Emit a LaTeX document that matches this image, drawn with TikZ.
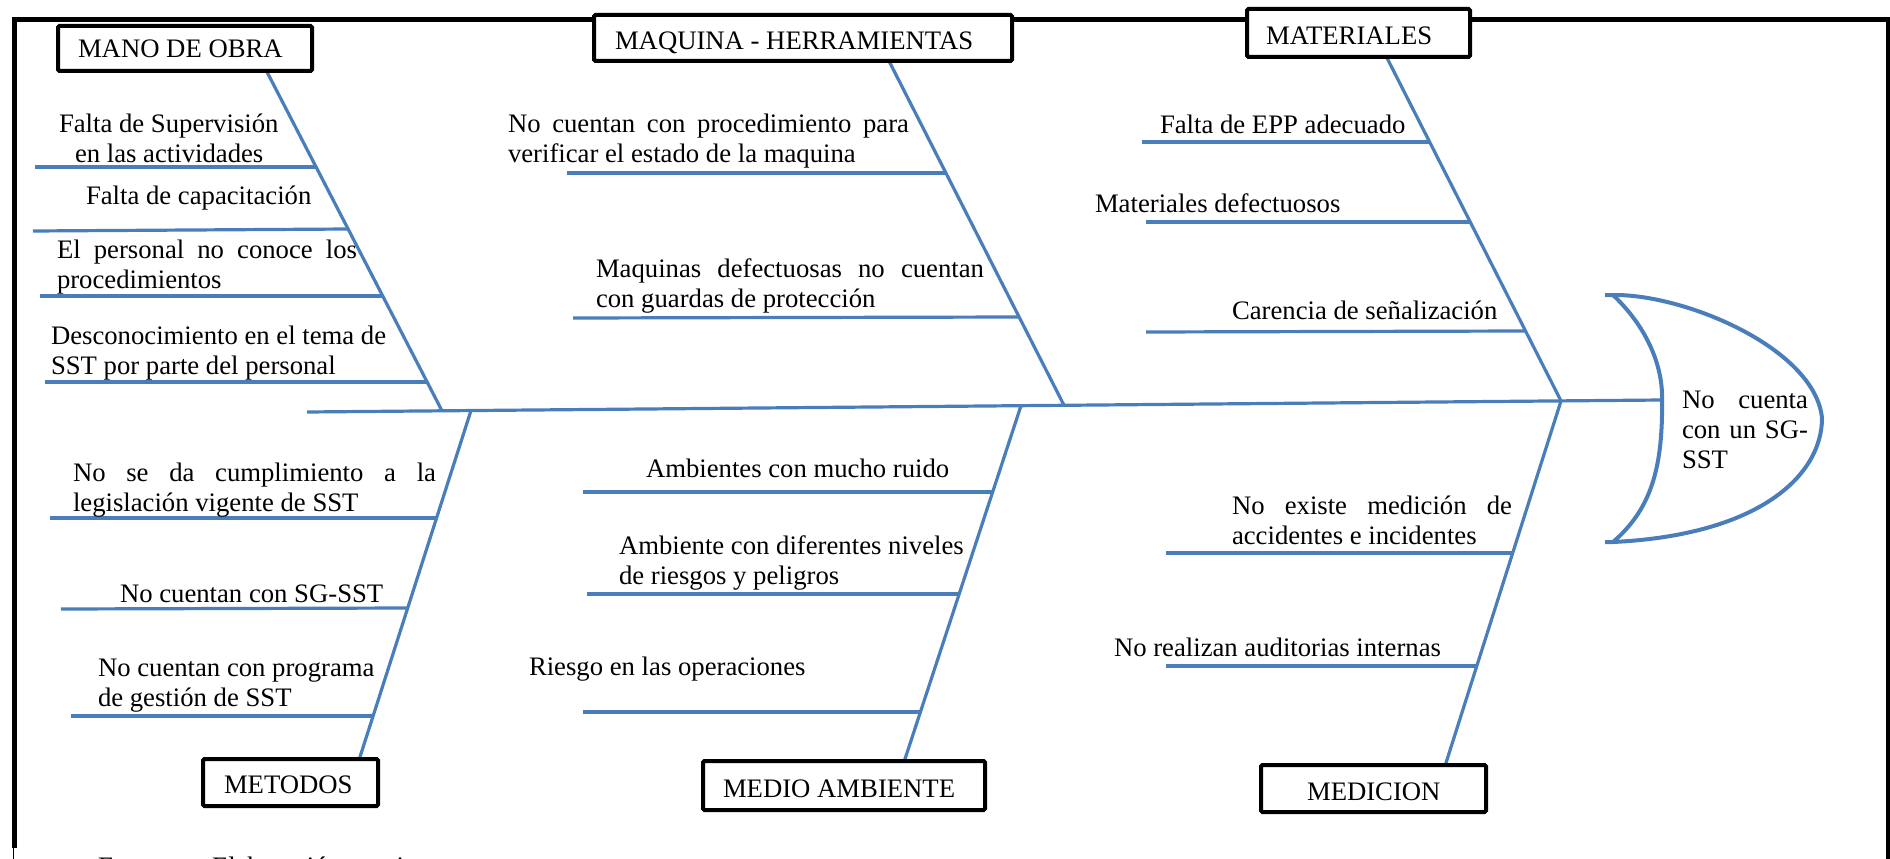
\documentclass[tikz,border=0pt]{standalone}
\usepackage{fontspec}
\setmainfont{Liberation Serif}
\definecolor{boneblue}{RGB}{74,126,187}
\newcommand{\fs}{\fontsize{26.7pt}{30pt}\selectfont}
\newcommand{\twol}[2]{\vtop{\hbox{#1}\hbox{#2}}}
\newcommand{\threel}[3]{\vtop{\hbox{#1}\hbox{#2}\hbox{#3}}}
\newcommand{\jst}[2]{\makebox[#1pt][s]{#2}}
\begin{document}
\begin{tikzpicture}[x=1pt,y=-1pt,
  frameline/.style={line width=4.5pt, line join=miter},
  bone/.style={draw=boneblue, line width=3.2pt},
  headline/.style={draw=boneblue, line width=4pt},
  catbox/.style={draw, line width=4pt, fill=white, rounded corners=1.5pt, inner sep=0pt, outer sep=0pt, anchor=north west, font=\fs},
  lbl/.style={inner sep=0pt, outer sep=0pt, anchor=base west, font=\fs}]
\useasboundingbox (0,0) rectangle (1890,859);
\clip (0,0) rectangle (1890,859);

% frame
\draw[frameline] (14.7,848) -- (14.7,19.5) -- (1888,19.5) -- (1888,865);
\draw[line width=1pt] (13,846) -- (13,865);

% spine and junctions
\coordinate (spL) at (307,412);
\coordinate (spR) at (1662,400);
\coordinate (J1) at (442,410.8);
\coordinate (J2) at (1064,405.3);
\coordinate (J3) at (1561,400.9);
\coordinate (K1) at (471,410.5);
\coordinate (K2) at (1021,405.7);
\coordinate (K3) at (1561,400.9);
% bone ends at the category boxes
\coordinate (B1) at (266,70);
\coordinate (B2) at (889,61);
\coordinate (B3) at (1386,56);
\coordinate (C1) at (359,760);
\coordinate (C2) at (904,762);
\coordinate (C3) at (1445,766);

\draw[bone] (spL) -- (spR);
\draw[bone] (B1) -- (J1);
\draw[bone] (B2) -- (J2);
\draw[bone] (B3) -- (J3);
\draw[bone] (K1) -- (C1);
\draw[bone] (K2) -- (C2);
\draw[bone] (K3) -- (C3);

% sub-cause lines
\coordinate (m1a) at (35,167);   \coordinate (m1b) at (316,167);
\coordinate (m2a) at (33,231);   \coordinate (m2b) at (348,229);
\coordinate (m3a) at (40,296);   \coordinate (m3b) at (383,296);
\coordinate (m4a) at (45,382);   \coordinate (m4b) at (428,382);
\coordinate (q1a) at (567,173);  \coordinate (q1b) at (946,173);
\coordinate (q2a) at (573,318);  \coordinate (q2b) at (1019,317);
\coordinate (r1a) at (1142,142); \coordinate (r1b) at (1429,142);
\coordinate (r2a) at (1146,222); \coordinate (r2b) at (1470,222);
\coordinate (r3a) at (1146,332); \coordinate (r3b) at (1525,331);
\coordinate (s1a) at (50,518);   \coordinate (s1b) at (437,518);
\coordinate (s2a) at (61,609);   \coordinate (s2b) at (407,608);
\coordinate (s3a) at (71,716);   \coordinate (s3b) at (373,716);
\coordinate (u1a) at (583,492);  \coordinate (u1b) at (993,492);
\coordinate (u2a) at (587,594);  \coordinate (u2b) at (959,594);
\coordinate (u3a) at (583,712);  \coordinate (u3b) at (920,712);
\coordinate (v1a) at (1166,553); \coordinate (v1b) at (1513,553);
\coordinate (v2a) at (1166,666); \coordinate (v2b) at (1477,666);
\foreach \p in {m1,m2,m3,m4,q1,q2,r1,r2,r3,s1,s2,s3,u1,u2,u3,v1,v2}
  \draw[bone] (\p a) -- (\p b);

% fish head
\coordinate (hT) at (1605,295);
\coordinate (hB) at (1605,542);
\draw[headline] (hT) -- (1617,295) .. controls (1690,296) and (1815,350) .. (1822,418)
  .. controls (1822,475) and (1760,535) .. (1613,542) -- (hB);
\draw[headline] (1613,295) .. controls (1650,330) and (1663,370) .. (spR)
  .. controls (1663,470) and (1650,510) .. (1613,542);

% category boxes
\node[catbox, text height=32pt, text depth=13pt] (mano) at (58,26) {\makebox[254pt][l]{\hspace*{20pt}MANO DE OBRA}};
\node[catbox, text height=34pt, text depth=12pt] (maq) at (594,15) {\makebox[418pt][l]{\hspace*{21pt}MAQUINA - HERRAMIENTAS}};
\node[catbox, text height=36pt, text depth=12pt] (mat) at (1247,9) {\makebox[223pt][l]{\hspace*{19pt}MATERIALES}};
\node[catbox, text height=34pt, text depth=13pt] (met) at (203,759) {\makebox[175pt][l]{\hspace*{21pt}METODOS}};
\node[catbox, text height=36pt, text depth=13pt] (med) at (703,761) {\makebox[282pt][l]{\hspace*{20pt}MEDIO AMBIENTE}};
\node[catbox, text height=35pt, text depth=12pt] (mdc) at (1261,765) {\makebox[225pt][l]{\hspace*{46pt}MEDICION}};

% texts
\node[lbl] (t11) at (59,132) {\twol{Falta de Supervisión}{\hspace*{16pt}en las actividades}};
\node[lbl] (t12) at (86,204) {Falta de capacitación};
\node[lbl] (t13) at (57,258) {\twol{\jst{300}{El personal no conoce los}}{procedimientos}};
\node[lbl] (t14) at (51,344) {\twol{Desconocimiento en el tema de}{SST por parte del personal}};

\node[lbl] (t21) at (508,132) {\twol{\jst{401}{No cuentan con procedimiento para}}{verificar el estado de la maquina}};
\node[lbl] (t22) at (596,277) {\twol{\jst{388}{Maquinas defectuosas no cuentan}}{con guardas de protección}};

\node[lbl] (t31) at (1160,133) {Falta de EPP adecuado};
\node[lbl] (t32) at (1095,212) {Materiales defectuosos};
\node[lbl] (t33) at (1232,319) {Carencia de señalización};

\node[lbl] (t41) at (73,481) {\twol{\jst{363}{No se da cumplimiento a la}}{legislación vigente de SST}};
\node[lbl] (t42) at (120,602) {No cuentan con SG-SST};
\node[lbl] (t43) at (98,676) {\twol{No cuentan con programa}{de gestión de SST}};

\node[lbl] (t51) at (646,477) {Ambientes con mucho ruido};
\node[lbl] (t52) at (619,554) {\twol{Ambiente con diferentes niveles}{de riesgos y peligros}};
\node[lbl] (t53) at (529,675) {Riesgo en las operaciones};

\node[lbl] (t61) at (1232,514) {\twol{\jst{280}{No existe medición de}}{accidentes e incidentes}};
\node[lbl] (t62) at (1114,656) {No realizan auditorias internas};

\node[lbl] (effect) at (1682,408) {\threel{\jst{126}{No cuenta}}{\jst{126}{con un SG-}}{SST}};

\node[lbl] (src) at (98,875) {Fuente:\hspace*{34pt}Elaboración propia};
\end{tikzpicture}
\end{document}
